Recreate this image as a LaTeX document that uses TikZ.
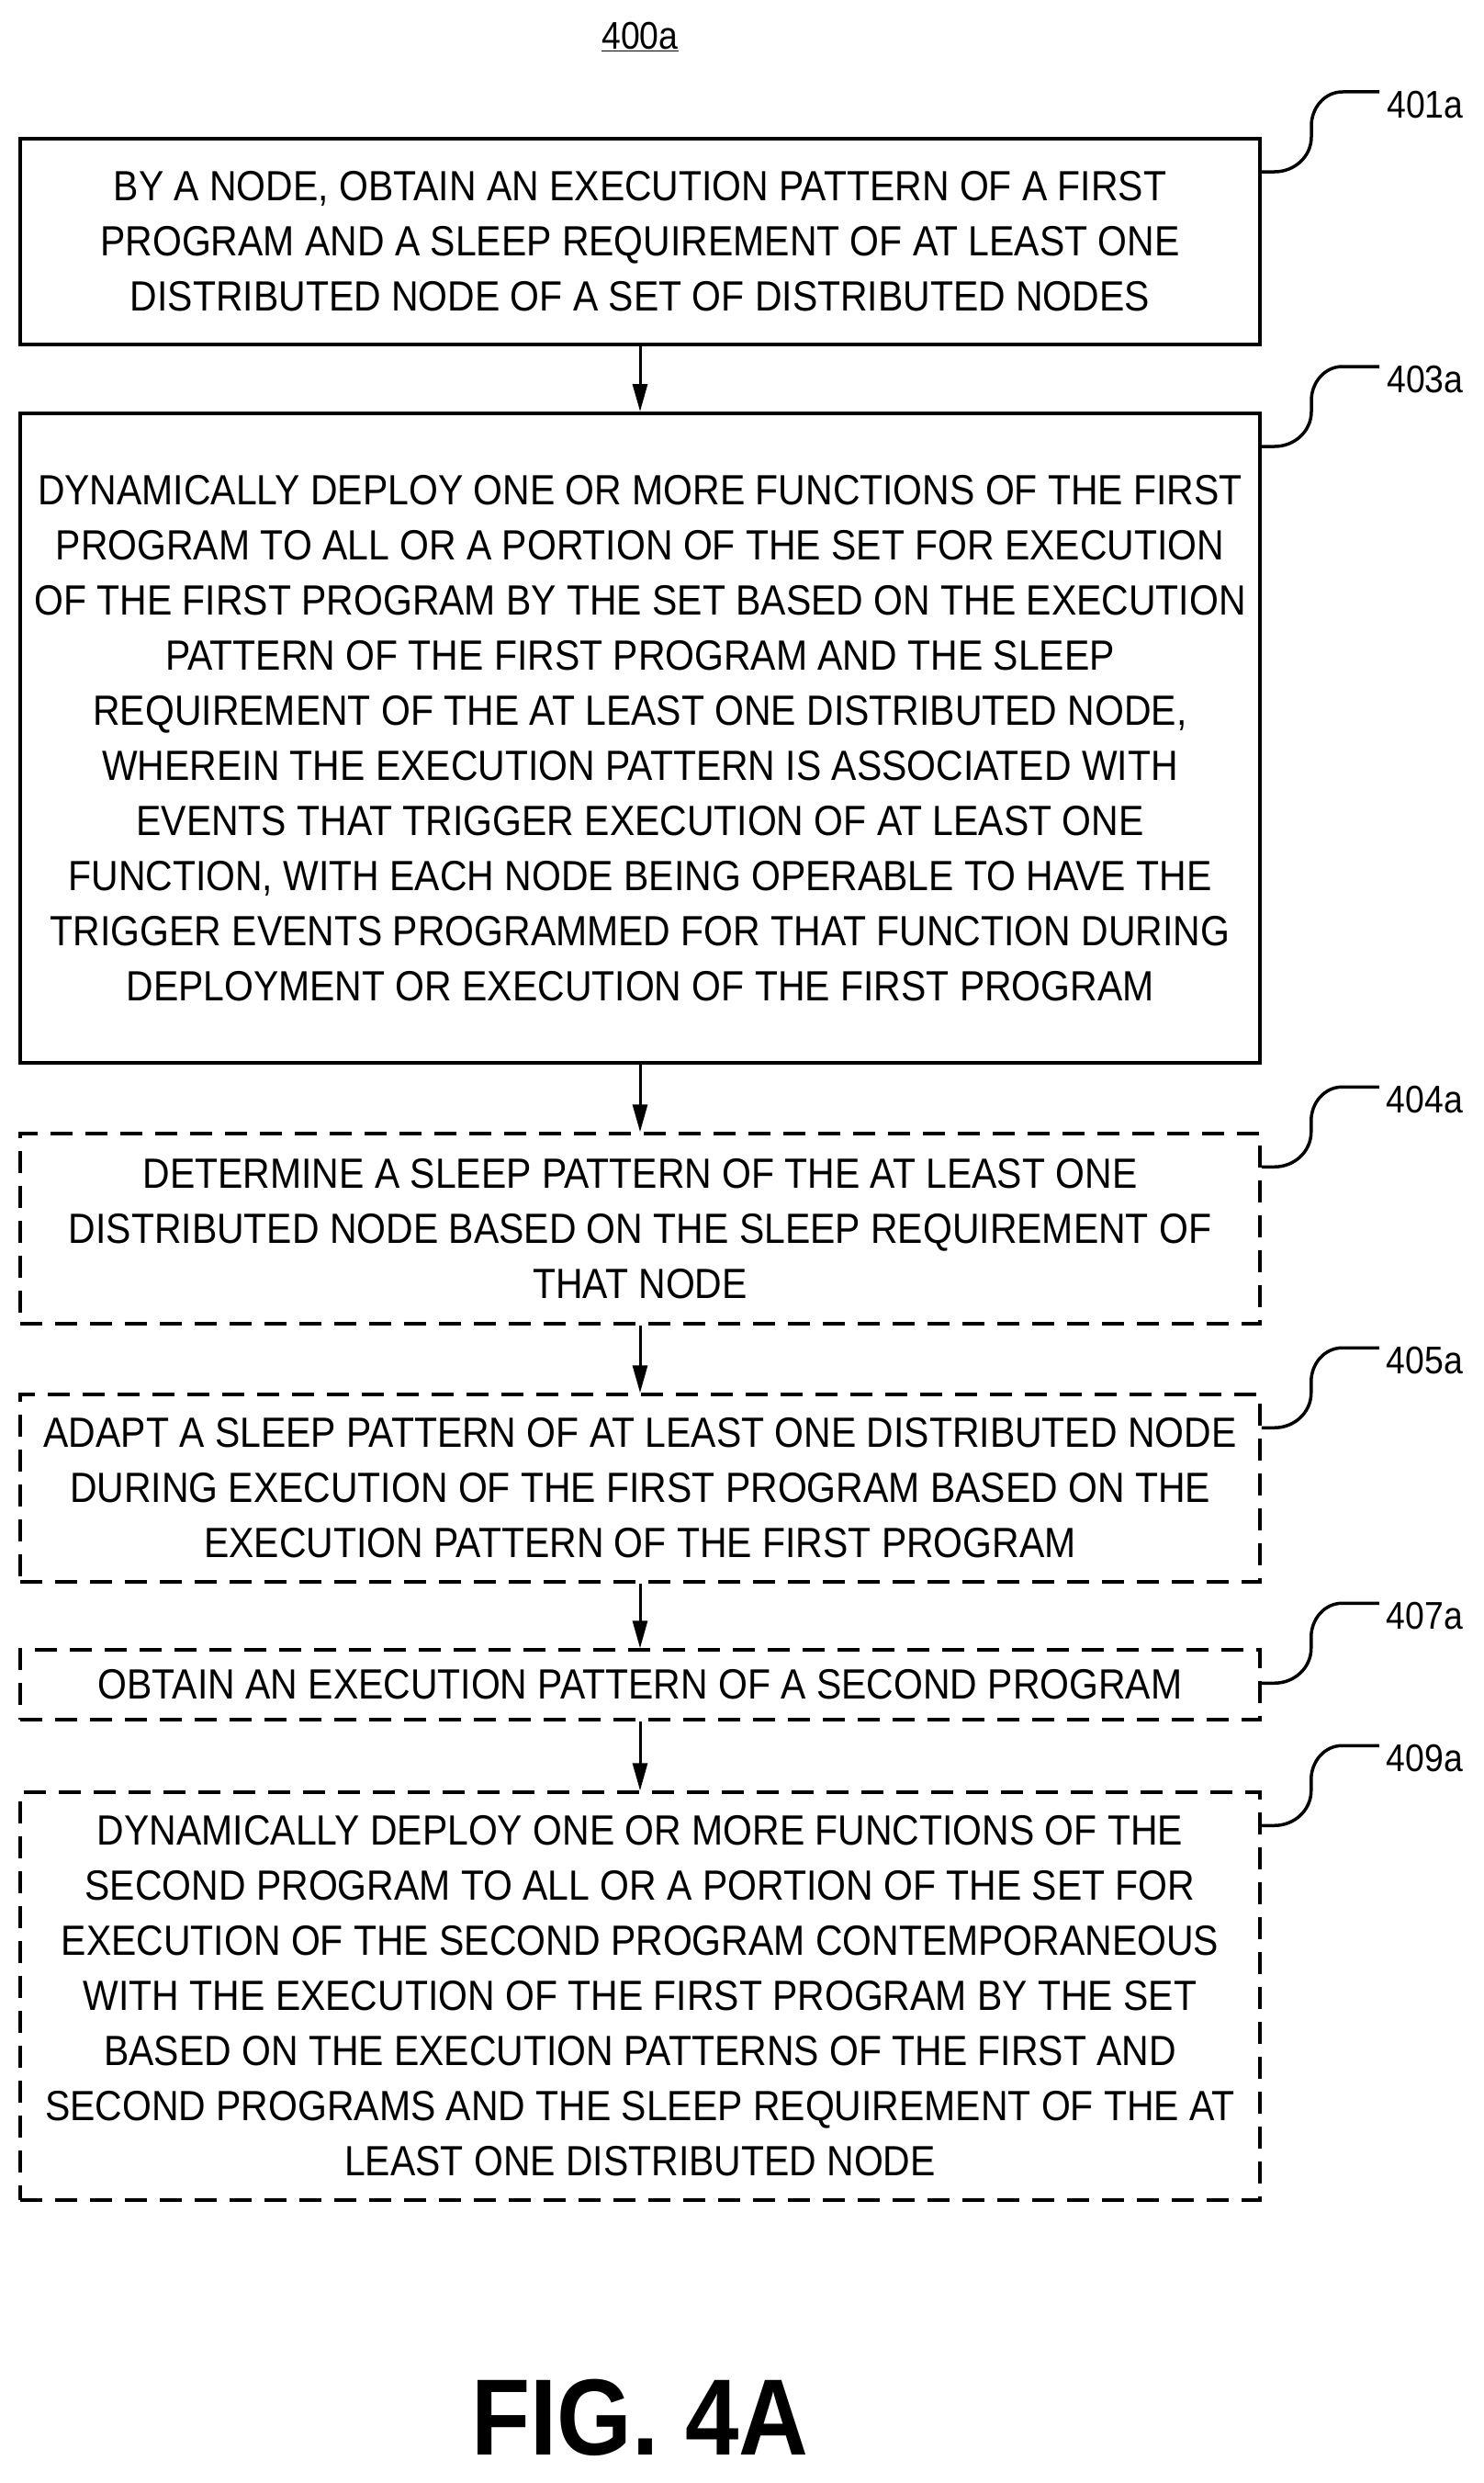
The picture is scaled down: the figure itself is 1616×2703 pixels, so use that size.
\documentclass[tikz,border=0pt]{standalone}
\usepackage{fontspec}
\setmainfont{Liberation Sans}[FakeStretch=0.89]
\usetikzlibrary{arrows.meta,calc}
\begin{document}
\begin{tikzpicture}[x=1pt,y=-1pt,
  box/.style={draw,line width=4pt,minimum width=1350pt,align=center,inner sep=0pt,
    font=\fontsize{46}{60}\selectfont},
  dbox/.style={box,line width=3.5pt,dash pattern=on 24pt off 14pt},
  arr/.style={line width=3pt,-{Triangle[length=30pt,width=16pt]}},
  lead/.style={line width=3.5pt},
  lab/.style={font=\fontsize{42}{44}\selectfont,anchor=west,inner sep=0pt}]
\useasboundingbox (0,0) rectangle (1616,2703);
\node[font=\fontsize{42}{44}\selectfont] (t) at (697,40) {\underline{400a}};
\node[box,minimum height=224pt] (b1) at (697,263) {BY A NODE, OBTAIN AN EXECUTION PATTERN OF A FIRST\\PROGRAM AND A SLEEP REQUIREMENT OF AT LEAST ONE\\DISTRIBUTED NODE OF A SET OF DISTRIBUTED NODES};
\node[box,minimum height=707pt] (b2) at (697,803.5) {DYNAMICALLY DEPLOY ONE OR MORE FUNCTIONS OF THE FIRST\\PROGRAM TO ALL OR A PORTION OF THE SET FOR EXECUTION\\OF THE FIRST PROGRAM BY THE SET BASED ON THE EXECUTION\\PATTERN OF THE FIRST PROGRAM AND THE SLEEP\\REQUIREMENT OF THE AT LEAST ONE DISTRIBUTED NODE,\\WHEREIN THE EXECUTION PATTERN IS ASSOCIATED WITH\\EVENTS THAT TRIGGER EXECUTION OF AT LEAST ONE\\FUNCTION, WITH EACH NODE BEING OPERABLE TO HAVE THE\\TRIGGER EVENTS PROGRAMMED FOR THAT FUNCTION DURING\\DEPLOYMENT OR EXECUTION OF THE FIRST PROGRAM};
\node[dbox,minimum height=207pt] (b3) at (697,1337.5) {DETERMINE A SLEEP PATTERN OF THE AT LEAST ONE\\DISTRIBUTED NODE BASED ON THE SLEEP REQUIREMENT OF\\THAT NODE};
\node[dbox,minimum height=204pt] (b4) at (697,1620) {ADAPT A SLEEP PATTERN OF AT LEAST ONE DISTRIBUTED NODE\\DURING EXECUTION OF THE FIRST PROGRAM BASED ON THE\\EXECUTION PATTERN OF THE FIRST PROGRAM};
\node[dbox,minimum height=76pt] (b5) at (697,1834) {OBTAIN AN EXECUTION PATTERN OF A SECOND PROGRAM};
\node[dbox,minimum height=444pt] (b6) at (697,2173) {DYNAMICALLY DEPLOY ONE OR MORE FUNCTIONS OF THE\\SECOND PROGRAM TO ALL OR A PORTION OF THE SET FOR\\EXECUTION OF THE SECOND PROGRAM CONTEMPORANEOUS\\WITH THE EXECUTION OF THE FIRST PROGRAM BY THE SET\\BASED ON THE EXECUTION PATTERNS OF THE FIRST AND\\SECOND PROGRAMS AND THE SLEEP REQUIREMENT OF THE AT\\LEAST ONE DISTRIBUTED NODE};
\draw[arr] (b1) -- (b2);
\draw[arr] (b2) -- (b3);
\draw[arr] (b3) -- (b4);
\draw[arr] (b4) -- (b5);
\draw[arr] (b5) -- (b6);
\foreach \b/\l in {b1/401a,b2/403a,b3/404a,b4/405a,b5/407a,b6/409a}{
  \coordinate (s\b) at ($(\b.north east)+(0,38)$);
  \coordinate (e\b) at ($(s\b)+(128,-87)$);
  \node[lab] (l\b) at ($(e\b)+(8,14)$) {\l};
  \draw[lead] (s\b) -- ++(14,0) to[out=0,in=-90] ++(40,-38) -- ++(0,-12) to[out=90,in=180] ++(34,-37) -- (e\b);
}
\node[font=\fontsize{118}{124}\selectfont\bfseries] (fig) at (697,2632) {FIG. 4A};
\end{tikzpicture}
\end{document}
